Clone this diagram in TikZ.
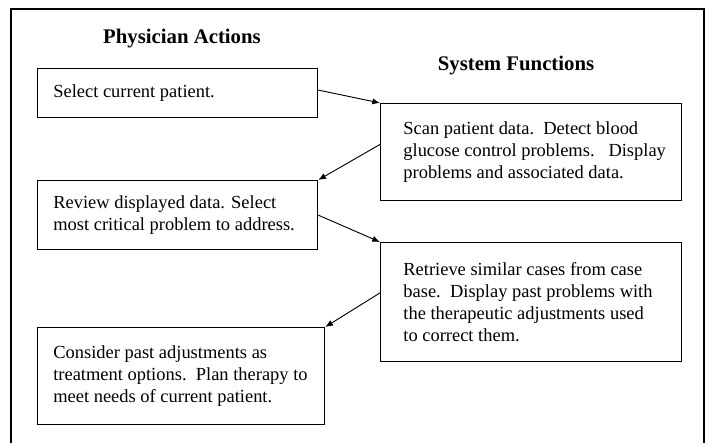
\documentclass[tikz,border=0pt]{standalone}
\usepackage{fontspec}
\setmainfont{Liberation Serif}
\usetikzlibrary{positioning,arrows.meta}

\begin{document}
\begin{tikzpicture}[
    x=0.65pt, y=-0.65pt,
    box/.style={draw, line width=0.8pt, anchor=north west, inner sep=0pt},
    boxtext/.style={anchor=west, align=left, inner sep=0pt, font=\fontsize{12}{14.3}\selectfont},
    heading/.style={font=\fontsize{13.5}{16}\selectfont\bfseries},
    link/.style={-{Latex[length=5pt,width=4pt]}, line width=0.6pt}
  ]
    \useasboundingbox (0,0) rectangle (709,443);

    % Outer frame, open at the bottom
    \draw[line width=0.9pt] (11,443) -- (11,9) -- (704,9) -- (704,443);

    % Column headings
    \node[heading] (physician) at (182,39) {Physician Actions};
    \node[heading] (system) at (516,66) {System Functions};

    % Physician actions
    \node[box, minimum width=280*0.65pt, minimum height=49*0.65pt] at (37,68) (select) {};
    \node[boxtext, right=10.4pt of select.west] (selecttext) {Select current patient.};

    \node[box, minimum width=280*0.65pt, minimum height=69*0.65pt] at (37,180) (review) {};
    \node[boxtext, right=10.4pt of review.west] (reviewtext) {Review displayed data. Select\\most critical problem to address.};

    \node[box, minimum width=287*0.65pt, minimum height=97*0.65pt] at (37,327) (consider) {};
    \node[boxtext, right=10.4pt of consider.west] (considertext) {Consider past adjustments as\\treatment options.\ \ Plan therapy to\\meet needs of current patient.};

    % System functions
    \node[box, minimum width=301*0.65pt, minimum height=97*0.65pt] at (380,103) (scan) {};
    \node[boxtext, right=15pt of scan.west] (scantext) {Scan patient data.\ \ Detect blood\\glucose control problems.\ \ \ Display\\problems and associated data.};

    \node[box, minimum width=301*0.65pt, minimum height=119*0.65pt] at (380,242) (retrieve) {};
    \node[boxtext, right=15pt of retrieve.west] (retrievetext) {Retrieve similar cases from case\\base.\ \ Display past problems with\\the therapeutic adjustments used\\to correct them.};

    % Flow between the columns
    \draw[link] ([yshift=2pt]select.east) -- (scan.north west);
    \draw[link] ([yshift=5pt]scan.west) -- (review.north east);
    \draw[link] (review.east) -- (retrieve.north west);
    \draw[link] ([yshift=6pt]retrieve.west) -- (consider.north east);
\end{tikzpicture}
\end{document}
